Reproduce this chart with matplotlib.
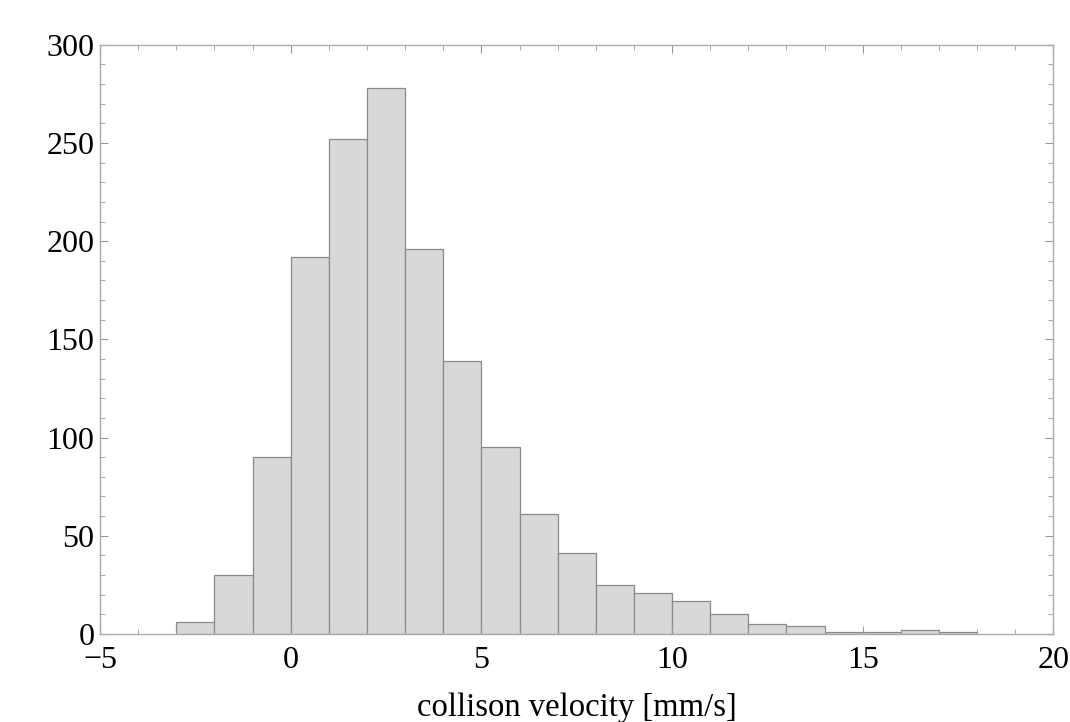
import matplotlib.pyplot as plt
import numpy as np
from matplotlib.ticker import MultipleLocator

plt.rcParams['font.family'] = ['Liberation Serif', 'DejaVu Serif']

bin_edges = [-3, -2, -1, 0, 1, 2, 3, 4, 5, 6, 7, 8, 9, 10, 11, 12, 13, 14, 15, 16, 17, 18]
counts = [6, 30, 90, 192, 252, 278, 196, 139, 95, 61, 41, 25, 21, 17, 10, 5, 4, 1, 1, 2, 1]
x_ticks = [-5, 0, 5, 10, 15, 20]
y_ticks = [0, 50, 100, 150, 200, 250, 300]

fig = plt.figure(figsize=(10.7, 7.22), dpi=100)
ax = fig.add_axes([0.0935, 0.122, 0.891, 0.816])

left = np.array(bin_edges[:-1])
widths = np.diff(bin_edges)
ax.bar(left, counts, width=widths, align='edge', color='#d8d8d8',
       edgecolor='#8a8a8a', linewidth=0.9)

ax.set_xlim(-5, 20)
ax.set_ylim(0, 300)
ax.set_xticks(x_ticks)
ax.set_yticks(y_ticks)
ax.xaxis.set_minor_locator(MultipleLocator(1))
ax.yaxis.set_minor_locator(MultipleLocator(10))
ax.tick_params(which='both', direction='in', top=True, right=True,
               color='#999999', labelsize=23, labelcolor='black')
ax.tick_params(which='major', length=6, width=0.8)
ax.tick_params(which='minor', length=3.5, width=0.6)
ax.tick_params(axis='x', pad=9)
ax.tick_params(axis='y', pad=4)
for s in ax.spines.values():
    s.set_color('#aaaaaa')
    s.set_linewidth(1.0)

ax.set_xlabel('collison velocity [mm/s]', fontsize=23.5, labelpad=12)

fig.savefig('out.png', dpi=100)
